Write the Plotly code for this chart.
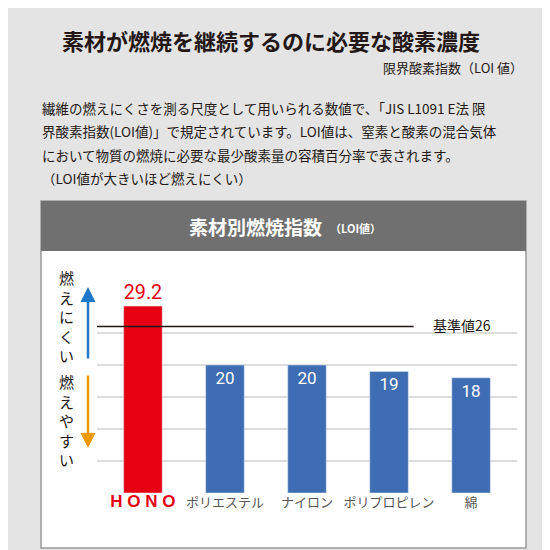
import plotly.graph_objects as go

categories = ["HONO", "ポリエステル", "ナイロン", "ポリプロピレン", "綿"]
loi_values = [29.2, 20, 20, 19, 18]
value_labels = ["29.2", "20", "20", "19", "18"]
bar_colors = ["#e60012", "#3f6db3", "#3f6db3", "#3f6db3", "#3f6db3"]
standard_value = 26

W = H = 550
def px(x): return x / W
def py(y): return 1 - y / H

FONT = "Noto Sans CJK JP"
xs = list(range(len(categories)))

fig = go.Figure()
fig.add_bar(x=xs, y=loi_values, marker_color=bar_colors, width=0.47,
            text=value_labels, textposition=["outside", "inside", "inside", "inside", "inside"],
            insidetextanchor="end",
            outsidetextfont=dict(color="#e60012", size=22, family="Roboto"),
            insidetextfont=dict(color="white", size=17, family="Roboto"),
            cliponaxis=False, hoverinfo="skip")
fig.add_scatter(x=[-0.56, 3.3], y=[standard_value, standard_value], mode="lines",
                line=dict(color="#231815", width=1.5), hoverinfo="skip")

shapes = [
    dict(type="rect", xref="paper", yref="paper", x0=px(33), x1=px(518), y0=py(540), y1=py(193),
         fillcolor="white", line=dict(color="#9a9a9a", width=1.5), layer="below"),
    dict(type="rect", xref="paper", yref="paper", x0=px(33), x1=px(518), y0=py(243), y1=py(193),
         fillcolor="#707070", line=dict(width=0), layer="below"),
]
ann = []
def t(x, y, s, size, color="#231815", anchor="left", bold=False, fam=FONT):
    ann.append(dict(xref="paper", yref="paper", x=px(x), y=py(y), text=("<b>%s</b>" % s) if bold else s,
                    showarrow=False, xanchor=anchor, yanchor="middle",
                    font=dict(family=fam, size=size, color=color)))
t(263, 32, "素材が燃焼を継続するのに必要な酸素濃度", 22, anchor="center", bold=True)
t(517, 59, "限界酸素指数（LOI 値）", 13, anchor="right")
lines = ["繊維の燃えにくさを測る尺度として用いられる数値で、「JIS L1091 E法 限",
         "界酸素指数(LOI値)」で規定されています。LOI値は、窒素と酸素の混合気体",
         "において物質の燃焼に必要な最少酸素量の容積百分率で表されます。",
         "（LOI値が大きいほど燃えにくい）"]
for i, l in enumerate(lines):
    t(32, 100 + i * 23.3, l, 13.5)
t(316, 218, "素材別燃焼指数", 19, color="white", anchor="right", bold=True)
t(320, 220, "（LOI値）", 11, color="white", bold=True)
t(423, 317, "基準値26", 14)
t(58, 308, "燃<br>え<br>に<br>く<br>い", 15, anchor="center")
t(58, 412, "燃<br>え<br>や<br>す<br>い", 15, anchor="center")
for hy, off, c in [(279, 73, "#1f78c8"), (440, -74, "#f39800")]:
    ann.append(dict(xref="paper", yref="paper", axref="pixel", ayref="pixel",
                    x=px(80), y=py(hy), ax=0, ay=off, showarrow=True,
                    arrowhead=2, arrowsize=1.2, arrowwidth=2.5, arrowcolor=c, text=""))

tick_text = ['<b><span style="color:#e60012;font-size:17px;font-family:Liberation Sans">H O N O</span></b>'] + categories[1:]

fig.update_layout(
    width=W, height=H, margin=dict(l=0, r=0, t=0, b=0),
    paper_bgcolor="#e4e4e4", plot_bgcolor="rgba(0,0,0,0)", showlegend=False,
    shapes=shapes, annotations=ann,
    xaxis=dict(domain=[px(89), px(509)], range=[-0.56, 4.56], tickvals=xs, ticktext=tick_text,
               showgrid=False, zeroline=False, showline=False, ticks="",
               tickfont=dict(family=FONT, size=13, color="#555")),
    yaxis=dict(domain=[py(485), py(293)], range=[0, 30], dtick=5, showticklabels=False,
               gridcolor="#dcdcdc", gridwidth=2, zeroline=False),
)
fig.write_html("out.html")
